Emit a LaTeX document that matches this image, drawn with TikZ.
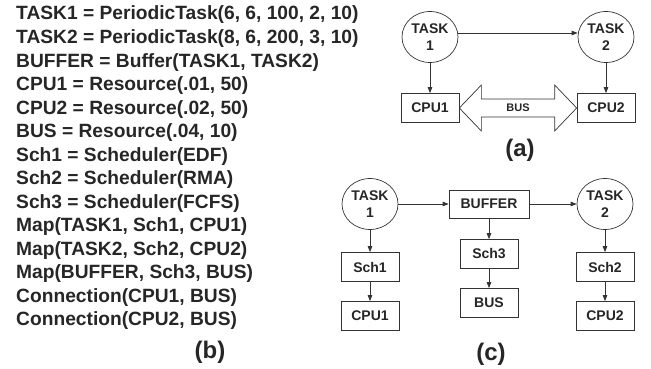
\documentclass[tikz,border=0pt]{standalone}
\usepackage{fontspec}
\setmainfont{Liberation Sans}
\usetikzlibrary{arrows.meta,shapes.geometric,calc}

\begin{document}
\begin{tikzpicture}[x=1pt,y=-1pt,
    every node/.style={text=black!85},
    task/.style={ellipse, draw=black!80, line width=0.7pt, minimum width=56pt,
        minimum height=51pt, inner sep=0pt, align=center,
        font=\fontsize{14}{17}\selectfont\bfseries},
    res/.style={rectangle, draw=black!80, line width=0.7pt, minimum width=58pt,
        minimum height=29pt, inner sep=0pt, font=\fontsize{14}{17}\selectfont\bfseries},
    flow/.style={draw=black!80, line width=0.7pt, -{Triangle[length=6pt,width=4.5pt]}},
    caption/.style={font=\fontsize{24}{28}\selectfont\bfseries}]

    \useasboundingbox (0,0) rectangle (651,369);

    % (b)
    \foreach \txt [count=\i from 0] in {{TASK1 = PeriodicTask(6, 6, 100, 2, 10)},
        {TASK2 = PeriodicTask(8, 6, 200, 3, 10)}, {BUFFER = Buffer(TASK1, TASK2)},
        {CPU1 = Resource(.01, 50)}, {CPU2 = Resource(.02, 50)}, {BUS = Resource(.04, 10)},
        {Sch1 = Scheduler(EDF)}, {Sch2 = Scheduler(RMA)}, {Sch3 = Scheduler(FCFS)},
        {Map(TASK1, Sch1, CPU1)}, {Map(TASK2, Sch2, CPU2)}, {Map(BUFFER, Sch3, BUS)},
        {Connection(CPU1, BUS)}, {Connection(CPU2, BUS)}}
        \node[anchor=base west, inner sep=0pt, font=\fontsize{19.2}{22}\selectfont\bfseries]
            (line\i) at (16,{20+23.5*\i}) {\txt};
    \node[caption] (capb) at (210,352) {(b)};

    % (a)
    \node[task] (T1a) at (430,37) {TASK\\1};
    \node[task] (T2a) at (606,37) {TASK\\2};
    \node[res] (CPU1a) at (430,108) {CPU1};
    \node[res] (CPU2a) at (606,108) {CPU2};

    \draw[flow] ([yshift=4pt]T1a.east) -- ([yshift=4pt]T2a.west);
    \draw[flow] (T1a) -- (CPU1a);
    \draw[flow] (T2a) -- (CPU2a);

    \coordinate (busL) at (CPU1a.east);
    \coordinate (busR) at (CPU2a.west);
    \draw[black!80, line width=0.7pt] (busL) -- ++(22,-23) -- ++(0,14) -- ($(busR)+(-22,-9)$)
        -- ++(0,-14) -- (busR) -- ++(-22,23) -- ++(0,-14) -- ($(busL)+(22,9)$)
        -- ++(0,14) -- cycle;
    \node[font=\fontsize{11}{13}\selectfont\bfseries] (busa) at ($(busL)!0.5!(busR)$) {BUS};
    \node[caption] (capa) at (520,150) {(a)};

    % (c)
    \node[task] (T1c) at (370,204) {TASK\\1};
    \node[res, minimum width=80pt, minimum height=28pt] (BUF) at (489,204) {BUFFER};
    \node[task] (T2c) at (605,204) {TASK\\2};
    \node[res] (Sch1) at (370,267) {Sch1};
    \node[res] (CPU1c) at (370,316) {CPU1};
    \node[res] (Sch3) at (489,254) {Sch3};
    \node[res] (BUSc) at (489,303) {BUS};
    \node[res] (Sch2) at (605,267) {Sch2};
    \node[res] (CPU2c) at (605,316) {CPU2};

    \draw[flow] (T1c) -- (BUF);
    \draw[flow] (BUF) -- (T2c);
    \draw[flow] (T1c) -- (Sch1);
    \draw[flow] (Sch1) -- (CPU1c);
    \draw[flow] (BUF) -- (Sch3);
    \draw[flow] (Sch3) -- (BUSc);
    \draw[flow] (T2c) -- (Sch2);
    \draw[flow] (Sch2) -- (CPU2c);
    \node[caption] (capc) at (491,354) {(c)};
\end{tikzpicture}
\end{document}
